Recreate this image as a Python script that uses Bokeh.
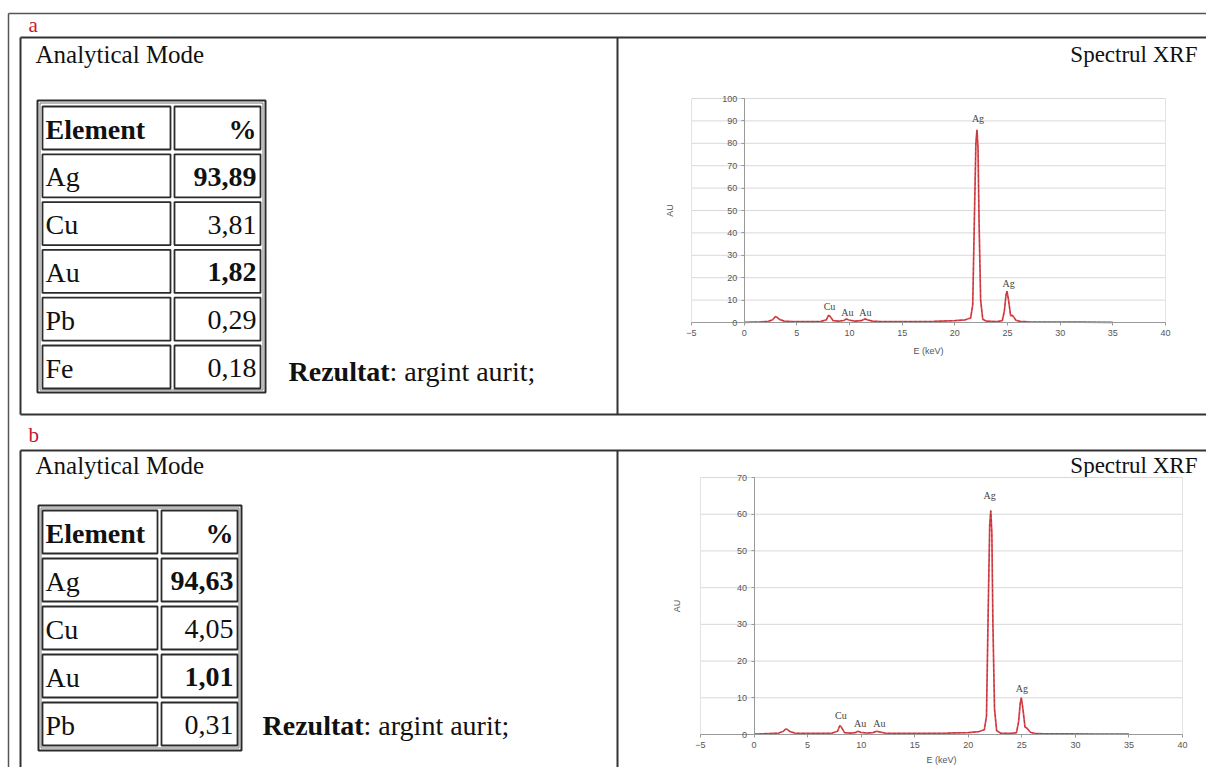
from bokeh.plotting import figure
from bokeh.models import Range1d, LinearAxis, FixedTicker, ColumnDataSource
from bokeh.core.properties import value
from bokeh.embed import file_html
from bokeh.resources import INLINE

# ---------------- data ----------------
panel_letters = ["a", "b"]

elements_a = ["Ag", "Cu", "Au", "Pb", "Fe"]
percent_a = ["93,89", "3,81", "1,82", "0,29", "0,18"]
bold_a = [True, False, True, False, False]

elements_b = ["Ag", "Cu", "Au", "Pb"]
percent_b = ["94,63", "4,05", "1,01", "0,31"]
bold_b = [True, False, True, False]

result_word = "Rezultat"
result_text = ": argint aurit;"

x_ticks = [-5, 0, 5, 10, 15, 20, 25, 30, 35, 40]
y_ticks_a = [0, 10, 20, 30, 40, 50, 60, 70, 80, 90, 100]
y_ticks_b = [0, 10, 20, 30, 40, 50, 60, 70]

energy_a = [0.0, 0.8, 1.6, 2.3, 2.7, 2.95, 3.1, 3.35, 3.8, 4.6, 6.0, 7.3, 7.8, 8.0, 8.15,
            8.45, 9.0, 9.45, 9.7, 9.95, 10.5, 11.1, 11.45, 11.7, 12.2, 13.0, 15.0, 18.0,
            20.0, 21.0, 21.5, 21.7, 21.85, 22.0, 22.1, 22.2, 22.3, 22.45, 22.65, 23.0,
            24.0, 24.5, 24.7, 24.85, 24.95, 25.1, 25.3, 25.45, 25.6, 25.8, 26.2, 27.0,
            29.0, 32.0, 35.0]
counts_a = [0.1, 0.2, 0.3, 0.5, 1.2, 2.6, 2.4, 1.4, 0.6, 0.4, 0.4, 0.5, 1.2, 3.2, 2.8,
            0.8, 0.6, 0.9, 1.6, 1.1, 0.6, 0.8, 1.6, 1.2, 0.6, 0.4, 0.4, 0.5,
            0.8, 1.2, 2.0, 8.0, 45.0, 80.0, 86.0, 78.0, 45.0, 10.0, 1.5, 0.6,
            0.4, 0.8, 5.0, 12.0, 14.0, 10.0, 3.0, 3.2, 2.4, 1.0, 0.5, 0.3,
            0.2, 0.2, 0.1]

energy_b = [0.0, 0.8, 1.6, 2.3, 2.7, 2.95, 3.1, 3.35, 3.8, 4.6, 6.0, 7.3, 7.8, 8.0, 8.15,
            8.45, 9.0, 9.45, 9.7, 9.95, 10.5, 11.1, 11.45, 11.7, 12.2, 13.0, 15.0, 18.0,
            20.0, 21.0, 21.5, 21.7, 21.85, 22.0, 22.1, 22.2, 22.3, 22.45, 22.65, 23.0,
            24.0, 24.5, 24.7, 24.85, 24.95, 25.1, 25.3, 25.45, 25.6, 25.8, 26.2, 27.0,
            29.0, 32.0, 35.0]
counts_b = [0.1, 0.2, 0.3, 0.4, 0.8, 1.5, 1.4, 0.8, 0.4, 0.3, 0.3, 0.4, 0.9, 2.4, 2.0,
            0.5, 0.4, 0.5, 0.9, 0.6, 0.4, 0.5, 0.9, 0.7, 0.4, 0.3, 0.3, 0.4,
            0.5, 0.8, 1.3, 5.0, 32.0, 57.0, 61.0, 55.0, 30.0, 7.0, 1.0, 0.4,
            0.3, 0.5, 3.5, 8.5, 10.0, 7.0, 2.0, 1.8, 1.3, 0.6, 0.3, 0.2,
            0.2, 0.1, 0.1]

peak_names_a = ["Cu", "Au", "Au", "Ag", "Ag"]
peak_x_a = [8.1, 9.8, 11.5, 22.2, 25.1]
peak_y_a = [4.6, 2.2, 2.2, 88.5, 15.0]

peak_names_b = ["Cu", "Au", "Au", "Ag", "Ag"]
peak_x_b = [8.1, 9.9, 11.7, 22.0, 25.0]
peak_y_b = [3.8, 1.5, 1.5, 63.5, 11.0]

# ---------------- layout (reference pixel space) ----------------
SERIF = "Liberation Serif"
SANS = "Liberation Sans"
INK = "#2b2b2b"
RED = "#c4162e"

W, H = 1206, 767
OX, OY = 0, 0

p = figure(width=W, height=H, x_range=Range1d(OX, OX + W), y_range=Range1d(OY + H, OY),
           x_axis_type=None, y_axis_type=None, min_border=0, output_backend="svg",
           toolbar_location=None, outline_line_color=None,
           background_fill_color="white", border_fill_color="white")


def fit_range(v0, s0, v1, s1, smin, smax):
    k = (s1 - s0) / (v1 - v0)
    return Range1d(start=v0 + (smin - s0) / k, end=v0 + (smax - s0) / k)


# outer frame
p.segment(x0=[8, 8], y0=[13, 13], x1=[1215, 8], y1=[13, 800], line_color="#555555", line_width=1.5)

panels = [
    dict(letter_y=24, top=37, bottom=414, title_y=54,
         tbl=(37, 100, 265, 392), cols=((42, 170), (174, 260)), row0=106, pitch=47.8, rh=43,
         elements=elements_a, percent=percent_a, bold=bold_a, res=(288, 371),
         xs=energy_a, ys=counts_a, yt=y_ticks_a, sx=(691, 1165), sy=(322, 98),
         pn=peak_names_a, px=peak_x_a, py=peak_y_a, au_std=44, ex_std=7),
    dict(letter_y=434, top=450, bottom=800, title_y=465,
         tbl=(38, 505, 241, 750), cols=((42, 157), (161, 237)), row0=510, pitch=48, rh=43,
         elements=elements_b, percent=percent_b, bold=bold_b, res=(262, 725),
         xs=energy_b, ys=counts_b, yt=y_ticks_b, sx=(700, 1182), sy=(734, 477),
         pn=peak_names_b, px=peak_x_b, py=peak_y_b, au_std=52, ex_std=4),
]

TABLE_FS = 28
for i, pn in enumerate(panels):
    t, b = pn["top"], pn["bottom"]
    # panel letter
    p.text(x=[28], y=[pn["letter_y"]], text=[panel_letters[i]], text_font=value(SERIF),
           text_font_size="21px", text_color=RED, text_baseline="middle")
    # panel box + divider
    p.segment(x0=[20, 20, 20, 617], y0=[t, b, t, t], x1=[1215, 1215, 20, 617], y1=[t, b, b, b],
              line_color="#333333", line_width=2)
    # headings
    p.text(x=[35], y=[pn["title_y"]], text=["Analytical Mode"], text_font=value(SERIF),
           text_font_size="25px", text_color="#111111", text_baseline="middle")
    p.text(x=[1197], y=[pn["title_y"]], text=["Spectrul XRF"], text_font=value(SERIF),
           text_font_size="23px", text_color="#111111", text_baseline="middle",
           text_align="right")

    # table
    L, T, R, B = pn["tbl"]
    p.quad(left=[L], right=[R], top=[T], bottom=[B], fill_color=None, line_color=INK, line_width=2)
    p.quad(left=[L + 2.5], right=[R - 2.5], top=[T + 2.5], bottom=[B - 2.5], fill_color=None,
           line_color="#777777", line_width=1)
    (c0l, c0r), (c1l, c1r) = pn["cols"]
    names = ["Element"] + pn["elements"]
    vals = ["%"] + pn["percent"]
    nb = [True] + [False] * len(pn["elements"])
    vb = [True] + pn["bold"]
    tops = [pn["row0"] + k * pn["pitch"] for k in range(len(names))]
    bots = [tt + pn["rh"] for tt in tops]
    mids = [tt + pn["rh"] / 2 + 1 for tt in tops]
    p.quad(left=[c0l] * len(tops) + [c1l] * len(tops), right=[c0r] * len(tops) + [c1r] * len(tops),
           top=tops + tops, bottom=bots + bots, fill_color=None, line_color=INK, line_width=1.8)
    src_n = ColumnDataSource(dict(x=[c0l + 3] * len(names), y=mids, t=names,
                                  st=["bold" if f else "normal" for f in nb]))
    p.text(x="x", y="y", text="t", text_font_style="st", source=src_n, text_font=value(SERIF),
           text_font_size=f"{TABLE_FS}px", text_color="#111111", text_baseline="middle")
    src_v = ColumnDataSource(dict(x=[c1r - 4] * len(vals), y=mids, t=vals,
                                  st=["bold" if f else "normal" for f in vb]))
    p.text(x="x", y="y", text="t", text_font_style="st", source=src_v, text_font=value(SERIF),
           text_font_size=f"{TABLE_FS}px", text_color="#111111", text_baseline="middle",
           text_align="right")

    # result line
    rx, ry = pn["res"]
    p.text(x=[rx], y=[ry], text=[result_word], text_font=value(SERIF), text_font_style="bold",
           text_font_size=f"{TABLE_FS}px", text_color="#111111", text_baseline="middle")
    p.text(x=[rx + 3.610 * TABLE_FS], y=[ry], text=[result_text], text_font=value(SERIF),
           text_font_size=f"{TABLE_FS}px", text_color="#111111", text_baseline="middle")

    # ---- XRF spectrum drawn on its own scales ----
    xr, yr = f"ex{i}", f"au{i}"
    yt = pn["yt"]
    p.extra_x_ranges[xr] = fit_range(x_ticks[0], pn["sx"][0], x_ticks[-1], pn["sx"][1], OX, OX + W)
    p.extra_y_ranges[yr] = fit_range(yt[0], pn["sy"][0], yt[-1], pn["sy"][1], OY + H, OY)
    p.segment(x0=[x_ticks[0]] * len(yt), x1=[x_ticks[-1]] * len(yt), y0=yt, y1=yt,
              line_color="#d9d9d9", line_width=1, x_range_name=xr, y_range_name=yr)
    p.segment(x0=[x_ticks[0], x_ticks[-1]], x1=[x_ticks[0], x_ticks[-1]],
              y0=[yt[0], yt[0]], y1=[yt[-1], yt[-1]],
              line_color="#e3e3e3", line_width=1, x_range_name=xr, y_range_name=yr)
    p.line(pn["xs"], pn["ys"], line_color="#e5474f", line_width=1.7, x_range_name=xr, y_range_name=yr)
    p.line(pn["xs"], pn["ys"], line_color="#5a1c1c", line_width=0.7, line_dash="3 2", alpha=0.55,
           x_range_name=xr, y_range_name=yr)
    p.text(x=pn["px"], y=pn["py"], text=pn["pn"], text_font=value(SERIF), text_font_size="10px",
           text_color="#444444", text_align="center", text_baseline="bottom",
           x_range_name=xr, y_range_name=yr)

    xax = LinearAxis(x_range_name=xr, y_range_name=yr, fixed_location=0,
                     bounds=(x_ticks[0], x_ticks[-1]), ticker=FixedTicker(ticks=x_ticks),
                     axis_label="E (keV)")
    yax = LinearAxis(x_range_name=xr, y_range_name=yr, fixed_location=0,
                     bounds=(yt[0], yt[-1]), ticker=FixedTicker(ticks=yt), axis_label="AU")
    for ax in (xax, yax):
        ax.axis_line_color = "#9a9a9a"
        ax.major_tick_line_color = "#9a9a9a"
        ax.major_tick_out = 3
        ax.major_tick_in = 0
        ax.minor_tick_line_color = None
        ax.major_label_text_font = SANS
        ax.major_label_text_font_size = "9px"
        ax.major_label_text_color = "#555555"
        ax.major_label_standoff = 4
        ax.axis_label_text_font = SANS
        ax.axis_label_text_font_size = "9px"
        ax.axis_label_text_font_style = "normal"
        ax.axis_label_text_color = "#555555"
    xax.axis_label_standoff = pn["ex_std"]
    yax.axis_label_standoff = pn["au_std"]
    p.add_layout(xax, "below")
    p.add_layout(yax, "left")

open("out.html", "w").write(file_html(p, INLINE))
